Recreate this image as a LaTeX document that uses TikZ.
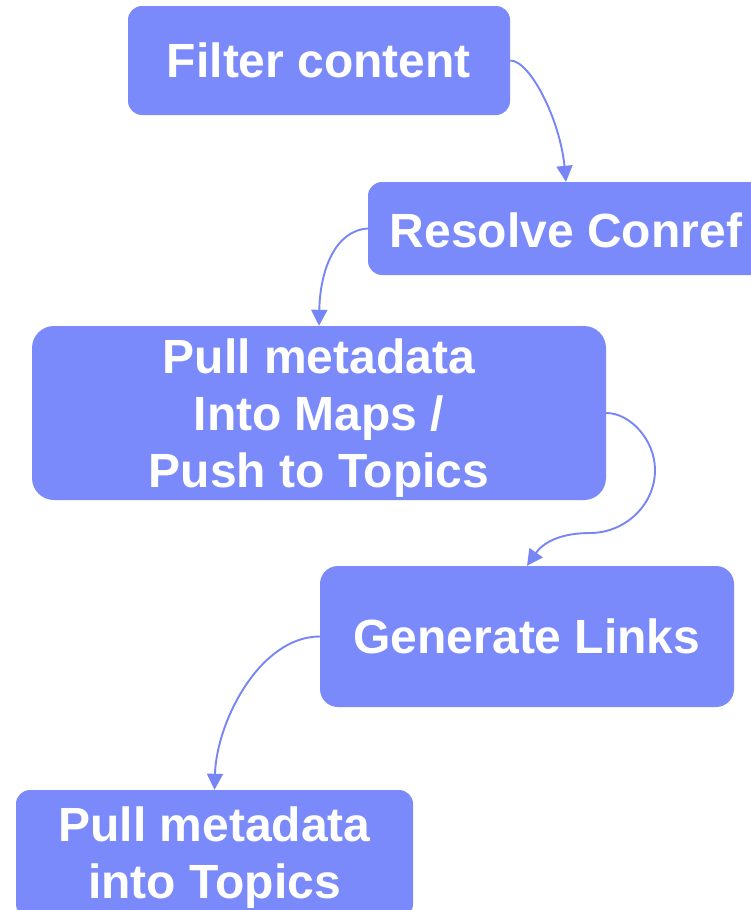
\documentclass[tikz,border=0pt]{standalone}
\usepackage{fontspec}
\setmainfont{Liberation Sans}
\usetikzlibrary{arrows.meta}
\definecolor{boxblue}{RGB}{122,138,250}
\definecolor{lineblue}{RGB}{118,134,246}
\begin{document}
\begin{tikzpicture}[x=1pt,y=-1pt,
  stepbox/.style={fill=boxblue,draw=none,text=white,inner sep=0pt,
    font=\fontsize{48}{57}\selectfont\bfseries,align=center},
  steptext/.style={text=white,inner sep=0pt,
    font=\fontsize{48}{57}\selectfont\bfseries,align=center},
  conn/.style={draw=lineblue,line width=1.9pt,-{Triangle[width=16pt,length=16pt]}}]
\useasboundingbox (0,0) rectangle (751,910);
\fill[white] (0,0) rectangle (751,910);
\node[stepbox,rounded corners=14pt,minimum width=382pt,minimum height=109pt] (b1) at (319,60.5) {Filter content};
\node[stepbox,rounded corners=14pt,minimum width=396pt,minimum height=93pt] (b2) at (566,228.5) {};
\node[steptext] (b2t) at ([yshift=-2pt]b2.center) {Resolve Conref};
\node[stepbox,rounded corners=22pt,minimum width=574pt,minimum height=174pt] (b3) at (319,413) {};
\node[steptext] (b3t) at ([yshift=-5pt]b3.center) {Pull metadata\\Into Maps /\\Push to Topics};
\node[stepbox,rounded corners=18pt,minimum width=414pt,minimum height=141pt] (b4) at (527,636.5) {Generate Links};
\node[stepbox,rounded corners=14pt,minimum width=397pt,minimum height=128pt] (b5) at (214.5,854) {};
\node[steptext] (b5t) at ([yshift=-4pt]b5.center) {Pull metadata\\into Topics};
\draw[conn] (b1.east) .. controls +(20,0) and +(-6,-62) .. (b2.north);
\draw[conn] (b2.west) .. controls +(-33,2) and +(1,-55) .. (b3.north);
\coordinate (m1) at (655,470);
\coordinate (m2) at (590,533);
\draw[conn] (b3.east) .. controls +(24,0) and (655,440) .. (m1)
  .. controls (655,505) and (625,533) .. (m2)
  .. controls (565,533) and (545,540) .. (b4.north);
\draw[conn] (b4.west) .. controls +(-60,0) and +(2,-68) .. (b5.north);
\end{tikzpicture}
\end{document}
